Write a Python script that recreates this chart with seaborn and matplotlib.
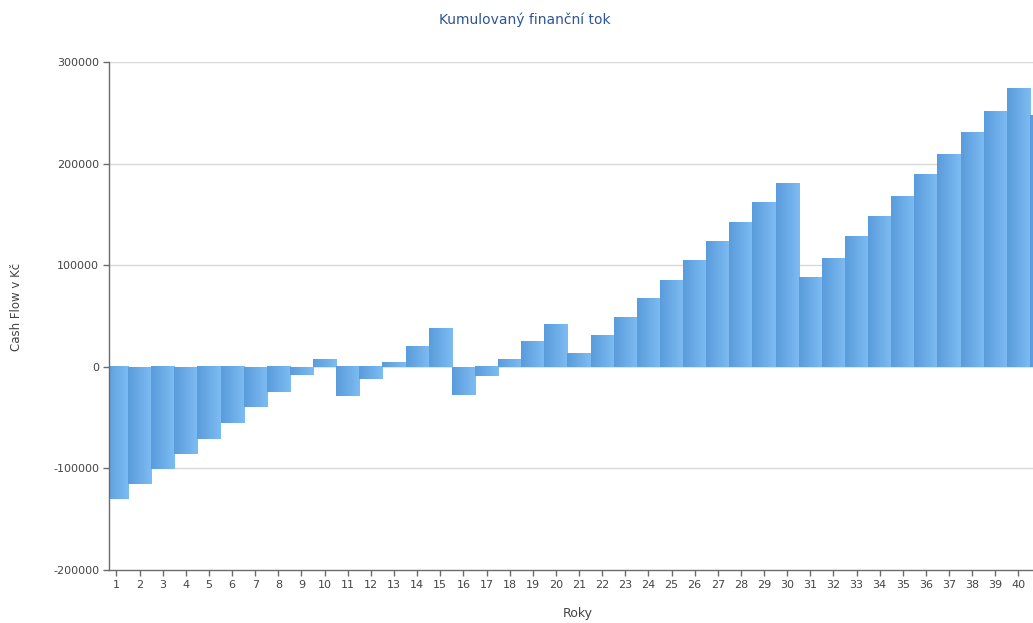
import numpy as np
import pandas as pd
import matplotlib
matplotlib.use("Agg")
import matplotlib.pyplot as plt
import seaborn as sns
from matplotlib.colors import LinearSegmentedColormap

years = list(range(1, 42))
cash_flow = [
    -130000, -115000, -100500, -85600, -70900, -55800, -39200, -24800, -7800, 7600,
    -28800, -12000, 4000, 20500, 37500, -27300, -9300, 7600, 24900, 42300,
    12800, 31000, 48500, 67200, 85600, 104600, 123300, 142000, 161700, 180400,
    88300, 107000, 128600, 148300, 168300, 189300, 209300, 230600, 251300, 273900,
    247700,
]
tick_labels = [str(y) for y in years]
title_text = "Kumulovaný finanční tok"
ylabel_text = "Cash Flow v Kč"
xlabel_text = "Roky"

df = pd.DataFrame({"rok": tick_labels, "cf": cash_flow})

sns.set_theme(style="white")
plt.rcParams['font.family'] = ['DejaVu Sans']

W, H = 1033, 623
fig = plt.figure(figsize=(W / 100, H / 100), dpi=100)
ax_left, ax_right = 109 / W, 1033 / W
ax_top_px, ax_bot_px = 62, 570
ax = fig.add_axes([ax_left, 1 - ax_bot_px / H, ax_right - ax_left, (ax_bot_px - ax_top_px) / H])

sns.barplot(data=df, x="rok", y="cf", ax=ax, width=1.0, color="#68aaea",
            linewidth=0, saturation=1, zorder=2)

xlim = (-0.323, 39.63)
ylim = (-200000, 300000)

cmap = LinearSegmentedColormap.from_list("g", ["#5a9bdb", "#7dbcf3"])
grad = np.linspace(0, 1, 128).reshape(1, -1)
for p in ax.patches:
    x0 = p.get_x()
    w = p.get_width()
    y0 = p.get_y()
    h = p.get_height()
    ax.imshow(grad, extent=[x0, x0 + w, min(y0, y0 + h), max(y0, y0 + h)],
              aspect="auto", cmap=cmap, zorder=2.1, interpolation="nearest")
    p.set_edgecolor("none")

ax.set_xlim(*xlim)
ax.set_ylim(*ylim)
ax.set_yticks([-200000, -100000, 0, 100000, 200000, 300000])
ax.set_yticklabels(["-200000", "-100000", "0", "100000", "200000", "300000"])
ax.set_xticks(range(40))
ax.set_xticklabels(tick_labels[:40])

for yv in [-100000, 100000, 200000, 300000]:
    ax.axhline(yv, color="#d9d9d9", linewidth=1.0, zorder=1)
ax.axhline(0, color="#e3e3e3", linewidth=0.8, zorder=1)

for s in ["top", "right"]:
    ax.spines[s].set_visible(False)
for s in ["left", "bottom"]:
    ax.spines[s].set_color("#6b6b6b")
    ax.spines[s].set_linewidth(1.0)
    ax.spines[s].set_zorder(3)

ax.tick_params(axis="both", direction="out", length=4, width=1, color="#6b6b6b",
               labelsize=8, labelcolor="#444444", pad=3, left=True, bottom=True)
ax.set_xlabel("")
ax.set_ylabel("")
ax.grid(False)

fig.text(525 / W, 1 - 20 / H, title_text, ha="center", va="center",
         fontsize=10, color="#2e5597")
fig.text(17 / W, 1 - 307 / H, ylabel_text, ha="center", va="center",
         rotation=90, fontsize=8.5, color="#444444")
fig.text(578 / W, 1 - 613 / H, xlabel_text, ha="center", va="center",
         fontsize=9, color="#444444")

fig.savefig("out.png", dpi=100, facecolor="white")
